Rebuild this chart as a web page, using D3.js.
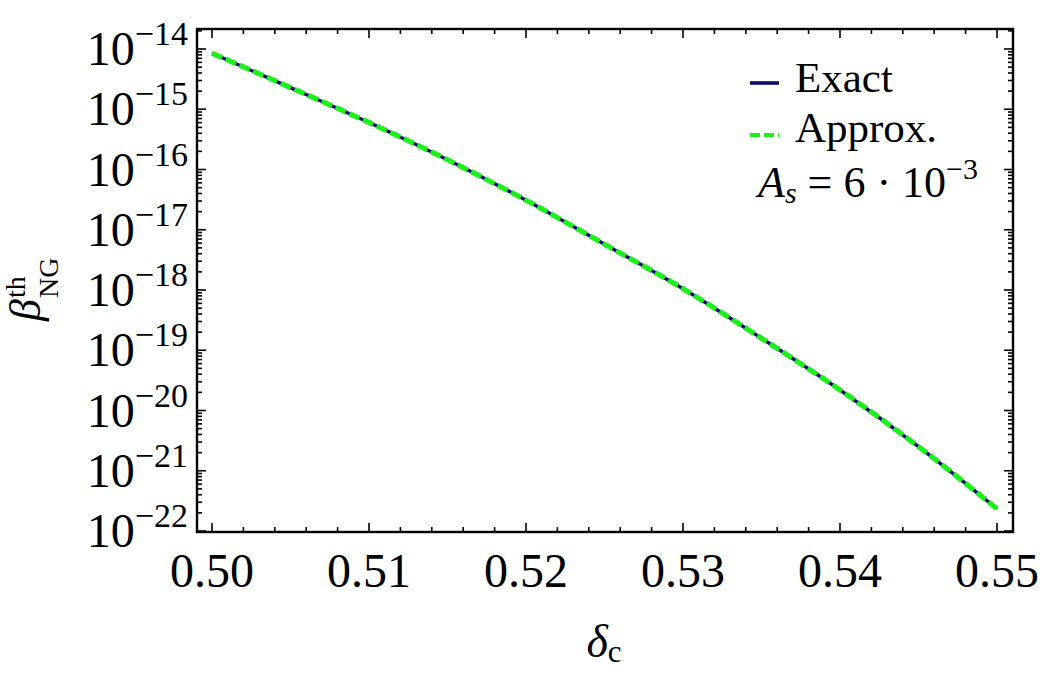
<!DOCTYPE html>
<html>
<head>
<meta charset="utf-8">
<script src="https://cdn.jsdelivr.net/npm/d3@7"></script>
<style>
  body { margin: 0; background: #fff; }
  text { font-family: "Liberation Serif", "Times New Roman", serif; fill: #000; }
</style>
</head>
<body>
<script>
// delta_c values and beta_NG^th
var deltaC   = [0.500, 0.505, 0.510, 0.515, 0.520, 0.525, 0.530, 0.535, 0.540, 0.545, 0.550];
var betaExact  = [8.5e-15, 2.29e-15, 6.03e-16, 1.45e-16, 3.09e-17, 5.75e-18, 1.05e-18, 1.58e-19, 2.19e-20, 2.51e-21, 2.34e-22];
var betaApprox = [8.5e-15, 2.29e-15, 6.03e-16, 1.45e-16, 3.09e-17, 5.75e-18, 1.05e-18, 1.58e-19, 2.19e-20, 2.51e-21, 2.34e-22];
var xTicks = [0.50, 0.51, 0.52, 0.53, 0.54, 0.55];
var yTickExp = [-14, -15, -16, -17, -18, -19, -20, -21, -22];
var seriesNames = ["Exact", "Approx."];

var width = 1042, height = 682;
// frame of the plot
var fL = 197, fR = 1013, fT = 29, fB = 532;

var svg = d3.select("body").append("svg")
    .attr("width", width)
    .attr("height", height);

var x = d3.scaleLinear().domain([0.50, 0.55]).range([212, 997]);
var y = d3.scaleLog().domain([1e-22, 1e-14]).range([531, 49]);

svg.append("clipPath").attr("id", "clip")
  .append("rect").attr("x", fL).attr("y", fT).attr("width", fR - fL).attr("height", fB - fT);

// ticks (all four sides, inward)
var xMinor = d3.range(0.500, 0.5505, 0.002).filter(v => Math.abs(Math.round(v * 100) - v * 100) > 1e-6);
var yMinor = [];
for (var n = -23; n <= -14; n++) {
    for (var k = 2; k <= 9; k++) {
        var v = k * Math.pow(10, n);
        var py = y(v);
        if (py > fT + 1 && py < fB - 1) yMinor.push(v);
    }
}
var tk = svg.append("g").attr("stroke", "#000").attr("stroke-width", 1.6);
function xTick(v, len) {
    tk.append("line").attr("x1", x(v)).attr("x2", x(v)).attr("y1", fB).attr("y2", fB - len);
    tk.append("line").attr("x1", x(v)).attr("x2", x(v)).attr("y1", fT).attr("y2", fT + len);
}
function yTick(v, len) {
    tk.append("line").attr("y1", y(v)).attr("y2", y(v)).attr("x1", fL).attr("x2", fL + len);
    tk.append("line").attr("y1", y(v)).attr("y2", y(v)).attr("x1", fR).attr("x2", fR - len);
}
xTicks.forEach(v => xTick(v, 9));
xMinor.forEach(v => xTick(v, 5));
yTickExp.forEach(e => yTick(Math.pow(10, e), 9));
yMinor.forEach(v => yTick(v, 5));

// curves
var line = d3.line()
    .x(d => x(d[0]))
    .y(d => y(d[1]))
    .curve(d3.curveMonotoneX);

var plot = svg.append("g").attr("clip-path", "url(#clip)");
plot.append("path")
    .datum(deltaC.map((d, i) => [d, betaExact[i]]))
    .attr("fill", "none")
    .attr("stroke", "#0c0c70")
    .attr("stroke-width", 3.4)
    .attr("d", line);
plot.append("path")
    .datum(deltaC.map((d, i) => [d, betaApprox[i]]))
    .attr("fill", "none")
    .attr("stroke", "#1ef01e")
    .attr("stroke-width", 5.2)
    .attr("stroke-dasharray", "11,4")
    .attr("d", line);

// frame
svg.append("rect")
    .attr("x", fL).attr("y", fT)
    .attr("width", fR - fL).attr("height", fB - fT)
    .attr("fill", "none")
    .attr("stroke", "#000")
    .attr("stroke-width", 2.4);

// x tick labels
svg.selectAll(".xlab")
    .data(xTicks)
    .enter()
    .append("text")
    .attr("class", "xlab")
    .attr("x", d => x(d))
    .attr("y", 587)
    .attr("text-anchor", "middle")
    .attr("font-size", "48px")
    .text(d => d.toFixed(2));

// y tick labels 10^n
var ylab = svg.selectAll(".ylab")
    .data(yTickExp)
    .enter()
    .append("text")
    .attr("class", "ylab")
    .attr("x", 188)
    .attr("y", d => y(Math.pow(10, d)) + 16)
    .attr("text-anchor", "end");
ylab.append("tspan").attr("font-size", "48px").text("10");
ylab.append("tspan").attr("font-size", "34px").attr("dy", -20).text(d => "\u2212" + Math.abs(d));

// x axis label
var xl = svg.append("text").attr("x", 604).attr("y", 657).attr("text-anchor", "middle");
xl.append("tspan").attr("font-size", "46px").attr("font-style", "italic").text("\u03b4");
xl.append("tspan").attr("font-size", "31px").attr("dy", 5).text("c");

// y axis label
var yl = svg.append("g").attr("transform", "translate(40,283) rotate(-90)");
var beta = yl.append("text").attr("x", -38).attr("y", 0)
    .attr("font-size", "44px").attr("font-style", "italic").text("\u03b2");
var bw = beta.node().getComputedTextLength();
yl.append("text").attr("x", -38 + bw + 1).attr("y", -15).attr("font-size", "28px").text("th");
yl.append("text").attr("x", -38 + bw + 1).attr("y", 18).attr("font-size", "28px").text("NG");

// legend
var leg = svg.append("g");
leg.append("line").attr("x1", 750).attr("x2", 779).attr("y1", 83).attr("y2", 83)
    .attr("stroke", "#0c0c70").attr("stroke-width", 3.6);
leg.append("line").attr("x1", 750).attr("x2", 779).attr("y1", 135).attr("y2", 135)
    .attr("stroke", "#1ef01e").attr("stroke-width", 4).attr("stroke-dasharray", "10,4");
leg.selectAll(".legtext")
    .data(seriesNames)
    .enter()
    .append("text")
    .attr("class", "legtext")
    .attr("x", 795)
    .attr("y", (d, i) => 92 + i * 50)
    .attr("font-size", "43px")
    .text(d => d);

var as = svg.append("text").attr("x", 758).attr("y", 197).attr("font-size", "44px");
as.append("tspan").attr("font-style", "italic").text("A");
as.append("tspan").attr("font-style", "italic").attr("font-size", "30px").attr("dy", 6).text("s");
as.append("tspan").attr("dy", -6).text(" = 6 \u00b7 10");
as.append("tspan").attr("font-size", "30px").attr("dy", -18).text("\u22123");
</script>
</body>
</html>
